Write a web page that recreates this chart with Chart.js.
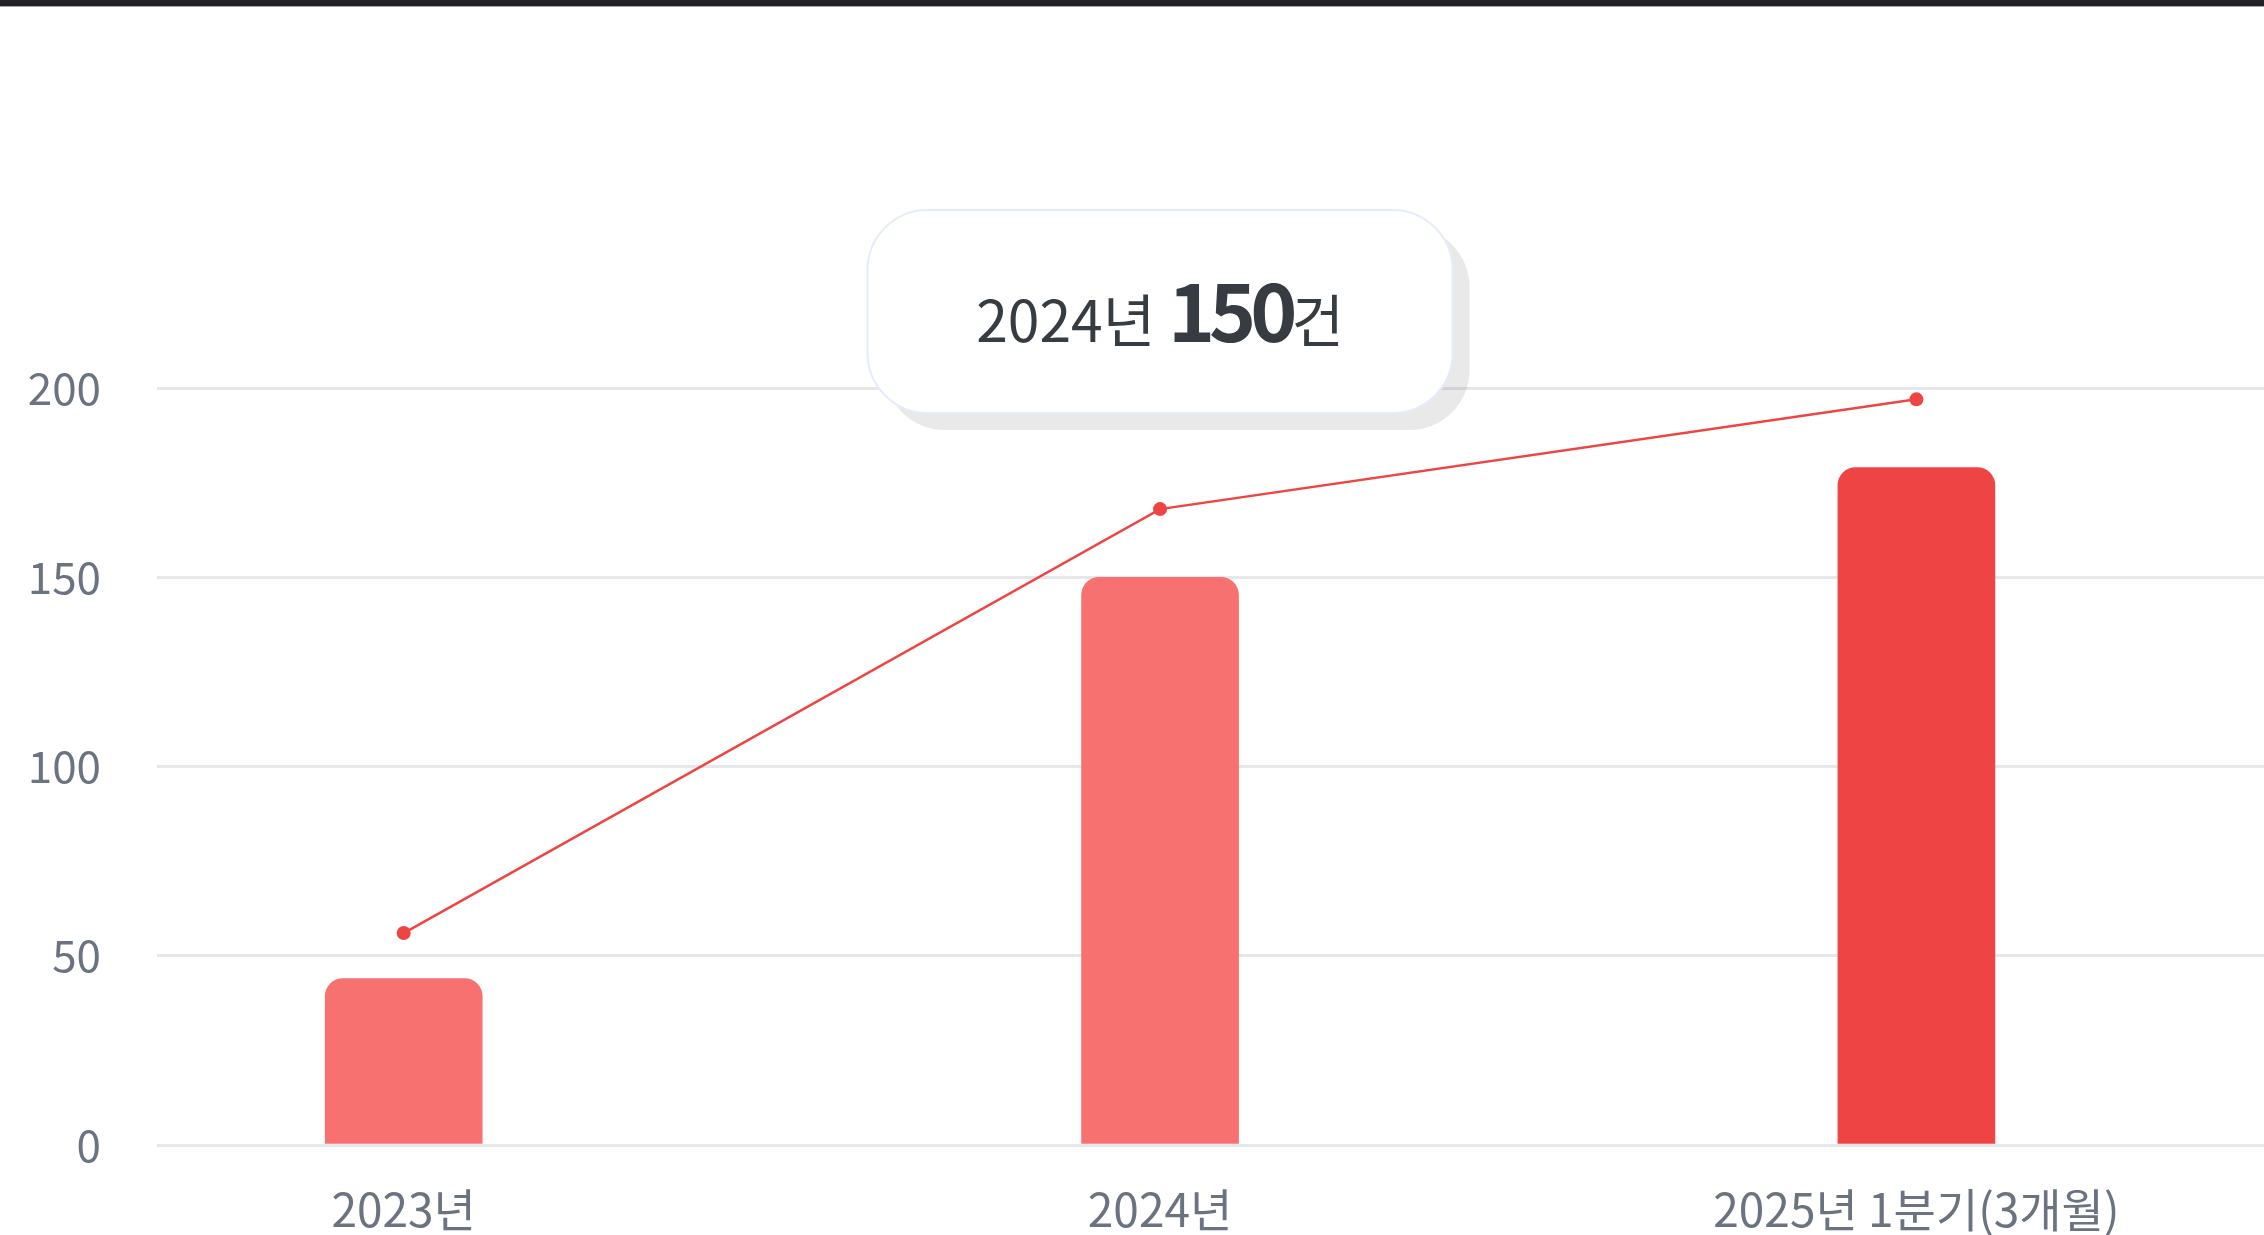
<!DOCTYPE html>
<html>
<head>
<meta charset="utf-8">
<script src="https://cdn.jsdelivr.net/npm/chart.js@4/dist/chart.umd.min.js"></script>
<style>
  html, body { margin: 0; padding: 0; background: #ffffff; overflow: hidden; }
  .topbar { position: absolute; left: 0; top: 0; width: 100%; height: 6px; background: #212226; border-bottom: 1px solid #a8a8a8; z-index: 2; }
  .wrap { position: absolute; left: 0; top: 0; width: 2272px; height: 1235px; }
</style>
</head>
<body>
<div class="topbar"></div>
<div class="wrap"><canvas id="conChart"></canvas></div>
<script>
var categories = ["2023년", "2024년", "2025년 1분기(3개월)"]
var barValues = [44, 150, 179]
var lineValues = [56, 168, 197]
var barColors = ["#F87171", "#F87171", "#EF4444"]
var yTicks = [0, 50, 100, 150, 200]
var highlightIndex = 1
var countUnit = "건"

var font = "'Noto Sans CJK KR', 'Noto Sans', sans-serif"

function roundRect(ctx, x, y, w, h, r){
    ctx.beginPath()
    ctx.moveTo(x + r, y)
    ctx.lineTo(x + w - r, y)
    ctx.arcTo(x + w, y, x + w, y + r, r)
    ctx.lineTo(x + w, y + h - r)
    ctx.arcTo(x + w, y + h, x + w - r, y + h, r)
    ctx.lineTo(x + r, y + h)
    ctx.arcTo(x, y + h, x, y + h - r, r)
    ctx.lineTo(x, y + r)
    ctx.arcTo(x, y, x + r, y, r)
    ctx.closePath()
}

// callout box above the highlighted year
var calloutPlugin = {
    id: 'callout',
    afterDatasetsDraw: function(chart){
        var ctx = chart.ctx
        var cx = chart.scales.x.getPixelForValue(highlightIndex)
        var w = 585, h = 203, r = 60
        var x = cx - w / 2, y = 210

        ctx.save()
        roundRect(ctx, x + 17, y + 17, w, h, r)
        ctx.fillStyle = "rgba(0,0,0,0.085)"
        ctx.fill()

        roundRect(ctx, x, y, w, h, r)
        ctx.fillStyle = "#ffffff"
        ctx.fill()
        ctx.lineWidth = 2
        ctx.strokeStyle = "#E4EBFB"
        ctx.stroke()

        var yearText = categories[highlightIndex] + " "
        var numText = String(barValues[highlightIndex])
        var small = "400 57px " + font
        var big = "700 80px " + font
        ctx.textBaseline = "alphabetic"
        ctx.fillStyle = "#363c42"
        ctx.font = small
        ctx.letterSpacing = "0px"
        var w1 = ctx.measureText(yearText).width
        var w3 = ctx.measureText(countUnit).width
        ctx.font = big
        ctx.letterSpacing = "-6px"
        var w2 = ctx.measureText(numText).width
        var tx = cx - (w1 + w2 + w3) / 2
        var base = 342
        ctx.font = small
        ctx.letterSpacing = "0px"
        ctx.fillText(yearText, tx, base)
        ctx.fillText(countUnit, tx + w1 + w2, base)
        ctx.font = big
        ctx.letterSpacing = "-6px"
        ctx.fillText(numText, tx + w1, base)
        ctx.restore()
    }
}

var conChart = document.getElementById('conChart').getContext('2d')

var chart = new Chart(conChart, {
    type: "bar",
    data: {
        datasets: [
            {
                type: "line",
                data: lineValues.map(function(v, i){ return { x: i, y: v } }),
                borderColor: "#EF4444",
                backgroundColor: "#EF4444",
                borderWidth: 2.5,
                pointRadius: 7,
                pointBorderWidth: 0,
                tension: 0,
                order: 0
            },
            {
                data: barValues.map(function(v, i){ return { x: i, y: v } }),
                backgroundColor: barColors,
                barThickness: 157,
                borderRadius: { topLeft: 18, topRight: 18, bottomLeft: 0, bottomRight: 0 },
                borderSkipped: false,
                order: 1
            }
        ]
    },
    options: {
        responsive: true,
        maintainAspectRatio: false,
        animation: false,
        layout: { padding: { top: 388, right: 0, bottom: 0, left: 0 } },
        plugins: {
            legend: { display: false },
            tooltip: { enabled: false }
        },
        scales: {
            x: {
                type: "linear",
                offset: false,
                min: -0.3262,
                max: 2.4609,
                border: { display: false },
                grid: { display: false, drawTicks: false },
                afterBuildTicks: function(axis){
                    axis.ticks = categories.map(function(c, i){ return { value: i } })
                },
                afterFit: function(axis){ axis.height = 90 },
                ticks: {
                    padding: 37,
                    color: "#6B7280",
                    font: { family: font, size: 46 },
                    maxRotation: 0,
                    autoSkip: false,
                    callback: function(v){ return categories[v] }
                }
            },
            y: {
                min: 0,
                max: 200,
                border: { display: false },
                grid: { color: "#E5E7EB", lineWidth: 3, drawTicks: false },
                afterBuildTicks: function(axis){
                    axis.ticks = yTicks.map(function(v){ return { value: v } })
                },
                afterFit: function(axis){ axis.width = 157 },
                ticks: {
                    padding: 56,
                    color: "#6B7280",
                    font: { family: font, size: 44 }
                }
            }
        }
    },
    plugins: [calloutPlugin]
})
</script>
</body>
</html>
